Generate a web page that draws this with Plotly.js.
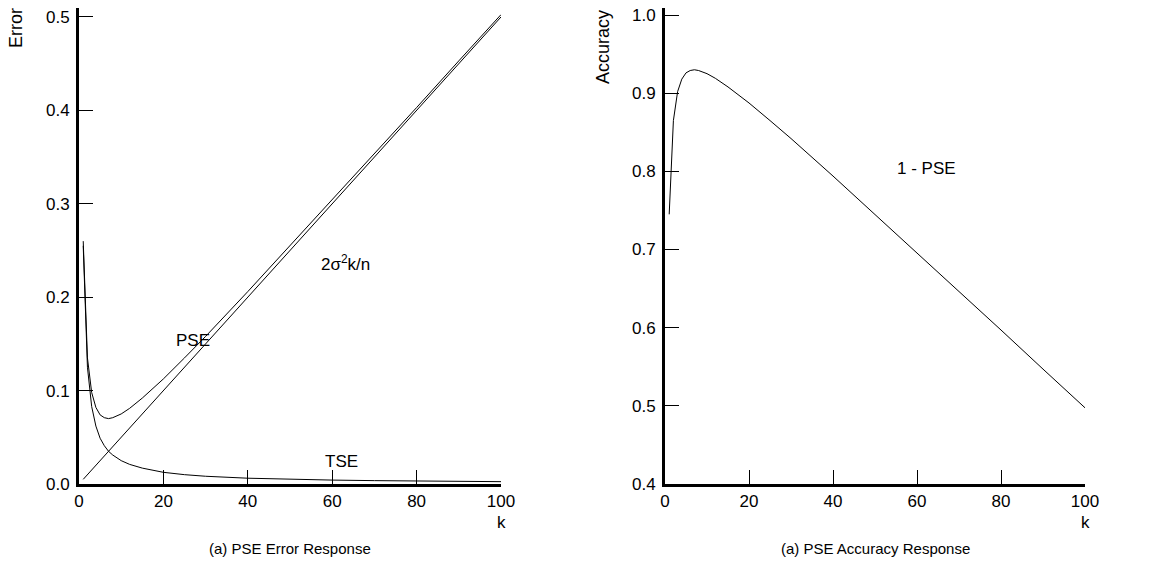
<!DOCTYPE html>
<html><head><meta charset="utf-8">
<script src="https://cdn.plot.ly/plotly-3.0.1.min.js"></script>
<style>html,body{margin:0;padding:0;background:#fff}#c{width:1162px;height:576px}</style>
</head><body><div id="c"></div>
<script>
const k = [1,2,3,4,5,6,7,8,10,12,15,20,25,30,40,50,60,70,80,90,100];
const tse = [0.255,0.125,0.083,0.062,0.049,0.041,0.035,0.031,0.025,0.021,0.017,0.0125,0.010,0.0083,0.0062,0.005,0.0042,0.0036,0.0031,0.0028,0.0025];
const varTerm = [0.005,0.010,0.015,0.020,0.025,0.030,0.035,0.040,0.050,0.060,0.075,0.100,0.125,0.150,0.200,0.250,0.300,0.350,0.400,0.450,0.500];
const pse = [0.260,0.135,0.098,0.082,0.074,0.071,0.070,0.071,0.075,0.081,0.092,0.1125,0.135,0.158,0.206,0.255,0.304,0.354,0.403,0.453,0.5025];
const accuracy = [0.745,0.865,0.902,0.918,0.926,0.929,0.930,0.929,0.925,0.919,0.908,0.8875,0.865,0.842,0.794,0.745,0.696,0.646,0.597,0.547,0.4975];
const xTicks = [0,20,40,60,80,100];
const errTicks = [0.0,0.1,0.2,0.3,0.4,0.5];
const accTicks = [0.4,0.5,0.6,0.7,0.8,0.9,1.0];

const W=1162,H=576;
const px = v=>v/W, py = v=>1-v/H;
const ln = {color:'#000',width:1};
const traces = [
 {x:k,y:tse,mode:'lines',line:ln,xaxis:'x',yaxis:'y',hoverinfo:'skip'},
 {x:k,y:varTerm,mode:'lines',line:ln,xaxis:'x',yaxis:'y',hoverinfo:'skip'},
 {x:k,y:pse,mode:'lines',line:ln,xaxis:'x',yaxis:'y',hoverinfo:'skip'},
 {x:k,y:accuracy,mode:'lines',line:ln,xaxis:'x2',yaxis:'y2',hoverinfo:'skip'}
];
const font = {family:'Liberation Sans, Arial, sans-serif',size:17,color:'#000'};
const xa = (dom,anchor)=>({domain:dom,anchor:anchor,range:[0,100],tickvals:xTicks,ticktext:xTicks.map(String),
  ticks:'inside',ticklen:14,tickwidth:1,tickcolor:'#000',showline:true,linewidth:3,linecolor:'#000',
  showgrid:false,zeroline:false,tickfont:font,fixedrange:true});
const ya = (dom,anchor,rng,tv)=>({domain:dom,anchor:anchor,range:rng,tickvals:tv,ticktext:tv.map(v=>v.toFixed(1)),
  ticks:'inside',ticklen:14,tickwidth:1,tickcolor:'#000',showline:true,linewidth:3,linecolor:'#000',
  showgrid:false,zeroline:false,tickfont:font,fixedrange:true,ticklabelstandoff:3});
const ann = (text,x,y,extra)=>Object.assign({text:text,x:x,y:y,xref:'paper',yref:'paper',showarrow:false,font:font,xanchor:'center',yanchor:'middle'},extra||{});
const errRange=[0,0.5096], accRange=[0.4,1.009];
const layout = {
 width:W,height:H,margin:{l:0,r:0,t:0,b:0},paper_bgcolor:'#fff',plot_bgcolor:'#fff',showlegend:false,
 xaxis:xa([px(79),px(501)],'y'),
 yaxis:ya([py(484),py(8)],'x',errRange,errTicks),
 xaxis2:xa([px(665),px(1085)],'y2'),
 yaxis2:ya([py(484),py(8)],'x2',accRange,accTicks),
 annotations:[
  ann('Error',px(16),py(28),{textangle:-90,font:Object.assign({},font,{size:18})}),
  ann('Accuracy',px(603),py(47),{textangle:-90,font:Object.assign({},font,{size:18})}),
  ann('k',px(501),py(522)),
  ann('k',px(1085),py(522)),
  ann('(a) PSE Error Response',px(290),py(548),{font:Object.assign({},font,{size:15})}),
  ann('(a) PSE Accuracy Response',px(875),py(548),{font:Object.assign({},font,{size:15})}),
  ann('2σ<sup>2</sup>k/n',px(345),py(263)),
  ann('PSE',px(193),py(340)),
  ann('TSE',px(341),py(461)),
  ann('1 - PSE',px(926),py(168))
 ]
};
Plotly.newPlot('c',traces,layout,{staticPlot:true,displayModeBar:false});
</script></body></html>
